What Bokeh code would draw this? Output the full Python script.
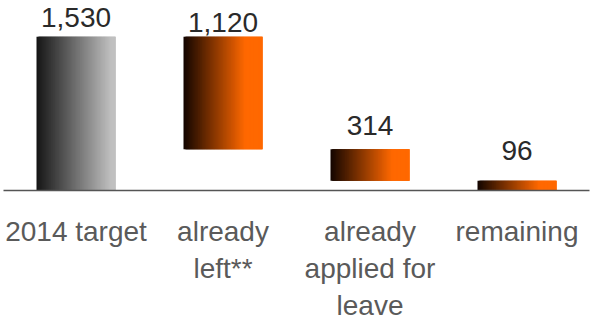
from bokeh.plotting import figure
from bokeh.models import ColumnDataSource, Range1d
from bokeh.core.properties import value
from bokeh.embed import file_html
from bokeh.resources import INLINE

# Waterfall data
categories = ["2014 target", "already\nleft**", "already\napplied for\nleave", "remaining"]
amounts = [1530, 1120, 314, 96]
value_labels = ["1,530", "1,120", "314", "96"]
bar_kind = ["total", "step", "step", "total"]

# label lift above each bar top, in pixels
label_lift = [10, 5, 14, 21]

W, H = 592, 323
FONT = "Liberation Sans"
VALUE_SHIFT = -9.5   # alphabetic baseline correction for the svg text
CAT_SHIFT = -11

# bar spans: totals start at zero, steps hang from the running total
tops, bottoms = [], []
running = 0
for amt, kind in zip(amounts, bar_kind):
    if kind == "total":
        tops.append(amt)
        bottoms.append(0)
        running = amt
    else:
        tops.append(running)
        running -= amt
        bottoms.append(running)

px_per_cat = 147.0
x0 = -75.5 / px_per_cat
px_per_unit = 0.1005
y_top = 190 / px_per_unit
y_bot = -(H - 190) / px_per_unit

p = figure(width=W, height=H, output_backend="svg", toolbar_location=None,
           x_range=Range1d(x0, x0 + W / px_per_cat), y_range=Range1d(y_bot, y_top),
           min_border=0, outline_line_color=None, background_fill_color="white",
           border_fill_color="white")
p.axis.visible = False
p.grid.visible = False


def lerp(a, b, t):
    return tuple(int(round(a[i] + (b[i] - a[i]) * t)) for i in range(3))


def hexc(c):
    return "#%02x%02x%02x" % c


# gradient bars built from thin overlapping vertical strips
N = 60
bw = 79 / px_per_cat
step = bw / N
left, right, top, bottom, color = [], [], [], [], []
for i, (t_, b_, kind) in enumerate(zip(tops, bottoms, bar_kind)):
    for k in range(N):
        f = (k + 0.5) / N
        if i == 0:
            c = lerp((22, 22, 22), (192, 192, 192), min(f / 0.95, 1))
        else:
            c = lerp((18, 5, 0), (255, 104, 0), min(f / 0.78, 1))
        l_ = i - bw / 2 + k * step
        left.append(l_)
        right.append(min(l_ + 3 * step, i + bw / 2))
        top.append(t_)
        bottom.append(b_)
        color.append(hexc(c))

p.quad(left="left", right="right", top="top", bottom="bottom", color="color",
       line_color=None,
       source=ColumnDataSource(dict(left=left, right=right, top=top, bottom=bottom, color=color)))

# baseline
p.segment(x0=[x0 + 3 / px_per_cat], x1=[x0 + 589 / px_per_cat], y0=[0], y1=[0],
          line_color="#555555", line_width=1.5)

# value labels
xs = list(range(len(amounts)))
p.text(x=xs, y=tops, text=value_labels, y_offset=[VALUE_SHIFT - l for l in label_lift],
       text_align="center", text_baseline="alphabetic",
       text_font=value(FONT), text_font_size="28px", text_color="#2a2a2a")

# category labels, one text row per line
lx, ly, lt, lo = [], [], [], []
for i, cat in enumerate(categories):
    for j, line in enumerate(cat.split("\n")):
        lx.append(i)
        ly.append(0)
        lt.append(line)
        lo.append(CAT_SHIFT + 52 + j * 37.2)
p.text(x=lx, y=ly, text=lt, y_offset=lo, text_align="center", text_baseline="alphabetic",
       text_font=value(FONT), text_font_size="28px", text_color="#5a5a5a")

open("out.html", "w").write(file_html(p, INLINE))
